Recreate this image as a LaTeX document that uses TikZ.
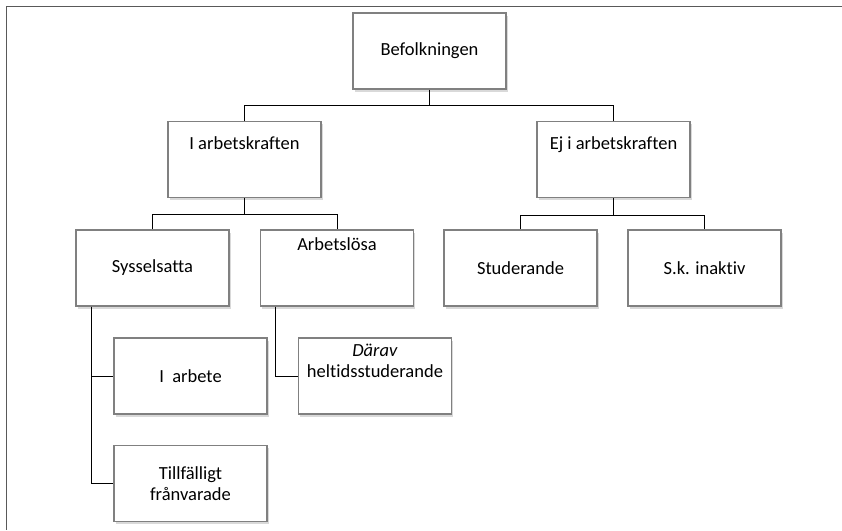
\documentclass[tikz,border=0pt]{standalone}
\usepackage{fontspec}
\setmainfont{Carlito}[Ligatures={NoCommon}]
\usetikzlibrary{shadows}

\begin{document}
\begin{tikzpicture}[x=1pt, y=-1pt, thin,
  box/.style={rectangle, draw=black!50, line width=1.1pt, fill=white, inner sep=0pt,
    minimum width=153pt, minimum height=76pt, align=center,
    font=\fontsize{18.5}{21}\selectfont,
    drop shadow={shadow xshift=1.5pt, shadow yshift=-2.5pt, opacity=0.3}},
  topbox/.style={box, text height=28pt, text depth=48pt},
  link/.style={draw=black, line width=0.9pt}]
\useasboundingbox (0,0) rectangle (842,530);
% ram
\draw[black!65, line width=1.6pt] (842,6.5) -- (6.5,6.5) -- (6.5,530);

\node[box] (bef) at (429.5,51) {Befolkningen};
\node[topbox] (iak) at (244.5,159.5) {I arbetskraften};
\node[topbox] (ejak) at (613.5,159.5) {Ej i arbetskraften};
\node[box] (syss) at (152.5,268) {Sysselsatta};
\node[topbox, text height=20pt, text depth=56pt] (arbl) at (337,268) {Arbetslösa};
\node[box] (stud) at (520.5,268) {Studerande};
\node[box] (inakt) at (704.5,268) {S.k. inaktiv};
\node[box] (iarb) at (190.5,376) {I\ \ arbete};
\node[box, text height=18pt, text depth=58pt] (darav) at (375,376)
  {\begin{tabular}[t]{@{}c@{}}\textit{Därav}\\heltidsstuderande\end{tabular}};
\node[box] (tillf) at (190.5,483.5) {Tillfälligt\\frånvarade};

\path[link] (bef.south) -- ++(0,16) -| (iak.north);
\path[link] (bef.south) ++(0,16) -| (ejak.north);
\path[link] (iak.south) -- ++(0,16) -| (syss.north);
\path[link] (iak.south) ++(0,16) -| (arbl.north);
\path[link] (ejak.south) -- ++(0,17) -| (stud.north);
\path[link] (ejak.south) ++(0,17) -| (inakt.north);
\path[link] ([xshift=16pt]syss.south west) |- (iarb.west);
\path[link] ([xshift=16pt]syss.south west) |- (tillf.west);
\path[link] ([xshift=15pt]arbl.south west) |- (darav.west);
\end{tikzpicture}
\end{document}
